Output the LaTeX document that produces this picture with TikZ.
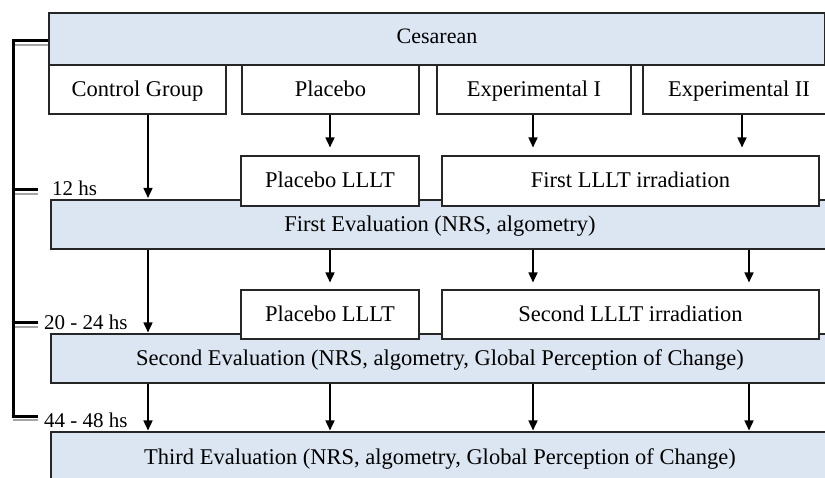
\documentclass[tikz,border=0pt]{standalone}
\usepackage{fontspec}
\setmainfont{Liberation Serif}
\usetikzlibrary{arrows.meta}
\definecolor{evalblue}{RGB}{220, 230, 242}
\definecolor{tickgray}{RGB}{165, 165, 165}

\begin{document}
\begin{tikzpicture}[
    x=1pt, y=-1pt,
    box/.style={rectangle, draw=black!85, line width=1.1pt, fill=#1,
                inner sep=0pt, align=center, text height=19pt, text depth=5pt,
                font=\fontsize{22.5}{26}\selectfont},
    box/.default=white,
    flow/.style={-{Triangle[length=10pt, width=9pt]}, line width=1.6pt},
    tick/.style={line width=3pt},
    tickshadow/.style={line width=2pt, draw=tickgray},
    timelabel/.style={anchor=west, inner sep=0pt, font=\fontsize{21}{24}\selectfont}
]
    \clip (0, 0) rectangle (825, 478);

    % Study population and groups
    \node[box=evalblue, minimum width=776pt, minimum height=52pt, text height=15pt,
          font=\fontsize{22}{26}\selectfont] (ces) at (437, 39) {Cesarean};
    \node[box, minimum width=177pt, minimum height=49pt] (ctrl) at (137.5, 89.5) {Control Group};
    \node[box, minimum width=177pt, minimum height=49pt] (plac) at (330.5, 89.5) {Placebo};
    \node[box, minimum width=194pt, minimum height=49pt] (exp1) at (534, 89.5) {Experimental I};
    \node[box, minimum width=192pt, minimum height=49pt] (exp2) at (739, 89.5) {Experimental II};

    % Evaluations
    \node[box=evalblue, minimum width=778pt, minimum height=49pt] (eval1) at (440, 224.5) {First Evaluation (NRS, algometry)};
    \node[box=evalblue, minimum width=778pt, minimum height=49pt] (eval2) at (440, 358.5) {Second Evaluation (NRS, algometry, Global Perception of Change)};
    \node[box=evalblue, minimum width=778pt, minimum height=50pt] (eval3) at (440, 457) {Third Evaluation (NRS, algometry, Global Perception of Change)};

    % Irradiations
    \node[box, minimum width=178pt, minimum height=50pt] (plac1) at (330, 181) {Placebo LLLT};
    \node[box, minimum width=377pt, minimum height=50pt] (irr1) at (630.5, 181) {First LLLT irradiation};
    \node[box, minimum width=178pt, minimum height=49pt] (plac2) at (330, 314.5) {Placebo LLLT};
    \node[box, minimum width=377pt, minimum height=49pt] (irr2) at (630.5, 314.5) {Second LLLT irradiation};

    % Arrow columns
    \coordinate (col1) at (148, 0);
    \coordinate (col2) at (330, 0);
    \coordinate (col3) at (533, 0);
    \coordinate (col4) at (742, 0);
    \coordinate (col5) at (749, 0);

    % Arrows
    \draw[flow, shorten >=1.5pt] (ctrl.south -| col1) -- (eval1.north -| col1);
    \draw[flow, shorten >=8pt] (plac.south -| col2) -- (plac1.north -| col2);
    \draw[flow, shorten >=8pt] (exp1.south -| col3) -- (irr1.north -| col3);
    \draw[flow, shorten >=8pt] (exp2.south -| col4) -- (irr1.north -| col4);

    \draw[flow, shorten >=1pt] (eval1.south -| col1) -- (eval2.north -| col1);
    \draw[flow, shorten >=7pt] (eval1.south -| col2) -- (plac2.north -| col2);
    \draw[flow, shorten >=7pt] (eval1.south -| col3) -- (irr2.north -| col3);
    \draw[flow, shorten >=7pt] (eval1.south -| col5) -- (irr2.north -| col5);

    \draw[flow, shorten >=1pt] (eval2.south -| col1) -- (eval3.north -| col1);
    \draw[flow, shorten >=1pt] (eval2.south -| col2) -- (eval3.north -| col2);
    \draw[flow, shorten >=1pt] (eval2.south -| col3) -- (eval3.north -| col3);
    \draw[flow, shorten >=1pt] (eval2.south -| col5) -- (eval3.north -| col5);

    % Time line
    \coordinate (t0) at (13, 41);
    \coordinate (t1) at (13, 190);
    \coordinate (t2) at (13, 323);
    \coordinate (t3) at (13, 416);
    \coordinate (tend) at (38, 0);
    \draw[tickshadow] ([yshift=-4pt]t0) -- ([yshift=-4pt]t0 -| ces.west);
    \draw[tickshadow] ([yshift=-4pt]t1) -- ([yshift=-4pt]t1 -| tend);
    \draw[tickshadow] ([yshift=-4pt]t2) -- ([yshift=-4pt]t2 -| tend);
    \draw[tickshadow] ([yshift=-3.5pt]t3) -- ([yshift=-3.5pt]t3 -| tend);
    \draw[tick] ([yshift=1.5pt]t0) -- ([yshift=-1.5pt]t3);
    \draw[tick] ([xshift=-1.5pt]t0) -- (t0 -| ces.west);
    \draw[tick] ([xshift=-1.5pt]t1) -- (t1 -| tend);
    \draw[tick] ([xshift=-1.5pt]t2) -- (t2 -| tend);
    \draw[tick] ([xshift=-1.5pt]t3) -- (t3 -| tend);

    \node[timelabel] (lab1) at (52, 188) {12 hs};
    \node[timelabel] (lab2) at (44, 322) {20 - 24 hs};
    \node[timelabel] (lab3) at (44, 420) {44 - 48 hs};
\end{tikzpicture}
\end{document}
